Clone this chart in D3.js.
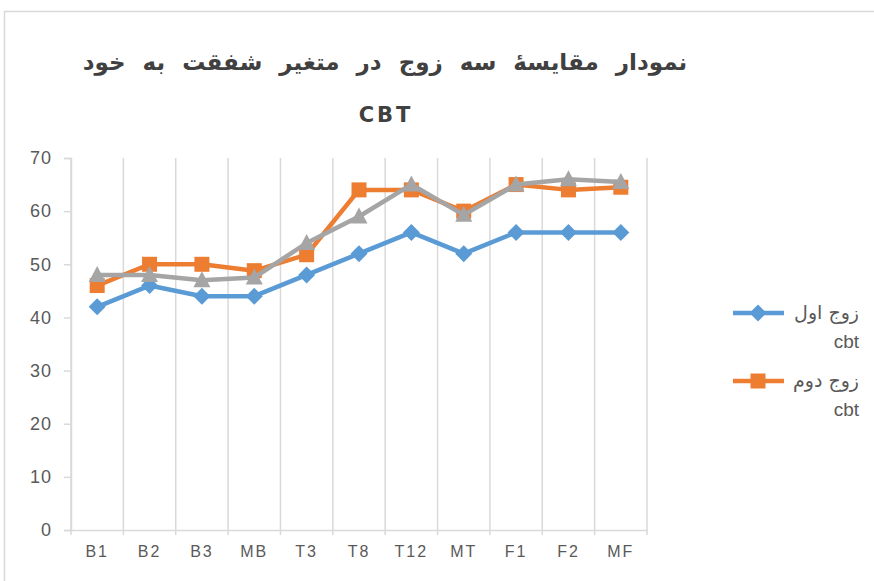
<!DOCTYPE html>
<head>
  <meta charset="utf-8">
  <script src="https://d3js.org/d3.v7.min.js"></script>
  <style>
    body { margin:0; padding:0; background:#fff; }
    text { font-family: "DejaVu Sans", sans-serif; }
  </style>
</head>
<body>
<script>
  // chart data
  var categories = ["B1", "B2", "B3", "MB", "T3", "T8", "T12", "MT", "F1", "F2", "MF"];
  var pair1 = [42, 46, 44, 44, 48, 52, 56, 52, 56, 56, 56];
  var pair2 = [46, 50, 50, 48.8, 51.8, 64, 64, 60, 65, 64, 64.5];
  var pair3 = [48, 48, 47, 47.5, 54, 59, 65, 59.3, 65, 66, 65.5];
  var yTicks = [0, 10, 20, 30, 40, 50, 60, 70];
  var seriesNames = ["زوج اول", "زوج دوم", "زوج سوم"];
  var titleLine1 = "نمودار مقایسهٔ سه زوج در متغیر شفقت به خود";
  var titleLine2 = "CBT";

  var width = 874, height = 581;
  var margin = {top:158, left:71, right:227, bottom:51};

  var svg = d3.select("body").append("svg")
    .attr("width", width).attr("height", height);

  // outer chart frame (runs off the right and bottom)
  svg.append("path")
    .attr("d", "M4.5," + height + "V11.5H" + width)
    .attr("fill", "none").attr("stroke", "#d9d9d9").attr("stroke-width", 1.5);

  var x = d3.scaleBand().domain(categories)
    .range([margin.left, width - margin.right]);
  var y = d3.scaleLinear().domain([0, 70])
    .range([height - margin.bottom, margin.top]);

  var grid = "#d9d9d9";

  // vertical gridlines at category boundaries
  var bounds = categories.map(function(c){ return x(c); }).concat([x.range()[1]]);
  svg.append("g").selectAll("line").data(bounds).enter().append("line")
    .attr("x1", function(d){ return d; }).attr("x2", function(d){ return d; })
    .attr("y1", y(70)).attr("y2", y(0) + 5)
    .attr("stroke", grid).attr("stroke-width", 1.5);

  // y axis
  var yAxis = svg.append("g")
    .attr("transform", "translate(" + margin.left + ",0)")
    .call(d3.axisLeft(y).tickValues(yTicks).tickSize(7).tickPadding(12));
  yAxis.select(".domain").attr("stroke", grid).attr("stroke-width", 1.5);
  yAxis.selectAll(".tick line").attr("stroke", grid).attr("stroke-width", 1.5);
  yAxis.selectAll("text").attr("fill", "#595959")
    .style("font-size", "18px").style("letter-spacing", "1px")
    .style("font-family", "Liberation Sans, sans-serif");

  // x axis
  var xAxis = svg.append("g")
    .attr("transform", "translate(0," + y(0) + ")")
    .call(d3.axisBottom(x).tickSize(0).tickPadding(16));
  xAxis.select(".domain").attr("stroke", grid).attr("stroke-width", 1.5);
  xAxis.selectAll("text").attr("fill", "#595959")
    .style("font-size", "16px").style("letter-spacing", "2px")
    .style("font-family", "Liberation Sans, sans-serif");

  // excel-like marker shapes
  var markers = {
    diamond: "M0,-8.5L8.5,0L0,8.5L-8.5,0Z",
    square: "M-7.5,-7.5H7.5V7.5H-7.5Z",
    triangle: "M0,-9L8.5,7L-8.5,7Z"
  };

  var series = [
    {name: seriesNames[0], values: pair1, color: "#5b9bd5", shape: markers.diamond},
    {name: seriesNames[1], values: pair2, color: "#ed7d31", shape: markers.square},
    {name: seriesNames[2], values: pair3, color: "#a5a5a5", shape: markers.triangle}
  ];

  var line = d3.line()
    .x(function(d, i){ return x(categories[i]) + x.bandwidth() / 2; })
    .y(function(d){ return y(d); });

  series.forEach(function(s) {
    svg.append("path").datum(s.values)
      .attr("d", line).attr("fill", "none")
      .attr("stroke", s.color).attr("stroke-width", 4.5)
      .attr("stroke-linejoin", "round");
    svg.append("g").selectAll("path").data(s.values).enter().append("path")
      .attr("d", s.shape)
      .attr("transform", function(d, i){
        return "translate(" + (x(categories[i]) + x.bandwidth() / 2) + "," + y(d) + ")";
      })
      .attr("fill", s.color);
  });

  // title
  svg.append("text").attr("x", 385).attr("y", 70)
    .attr("text-anchor", "middle")
    .style("font-size", "23px").style("font-weight", "bold")
    .style("word-spacing", "9px")
    .attr("fill", "#404040").text(titleLine1);
  svg.append("text").attr("x", 386).attr("y", 122)
    .attr("text-anchor", "middle")
    .style("font-size", "21px").style("font-weight", "bold")
    .style("letter-spacing", "3px")
    .attr("fill", "#404040").text(titleLine2);

  // legend (only first two entries fit)
  var legend = svg.append("g");
  series.slice(0, 2).forEach(function(s, i) {
    var ly = 313 + i * 68;
    legend.append("line").attr("x1", 733).attr("x2", 784)
      .attr("y1", ly).attr("y2", ly)
      .attr("stroke", s.color).attr("stroke-width", 4.5);
    legend.append("path")
      .attr("d", s.shape)
      .attr("transform", "translate(758," + ly + ")")
      .attr("fill", s.color);
    legend.append("text").attr("x", 859).attr("y", ly + 6)
      .attr("text-anchor", "end").attr("fill", "#595959")
      .style("font-size", "19px").text(s.name);
    legend.append("text").attr("x", 859).attr("y", ly + 35)
      .attr("text-anchor", "end").attr("fill", "#595959")
      .style("font-size", "19px").style("font-family", "Liberation Sans, sans-serif")
      .text("cbt");
  });
</script>
</body>
